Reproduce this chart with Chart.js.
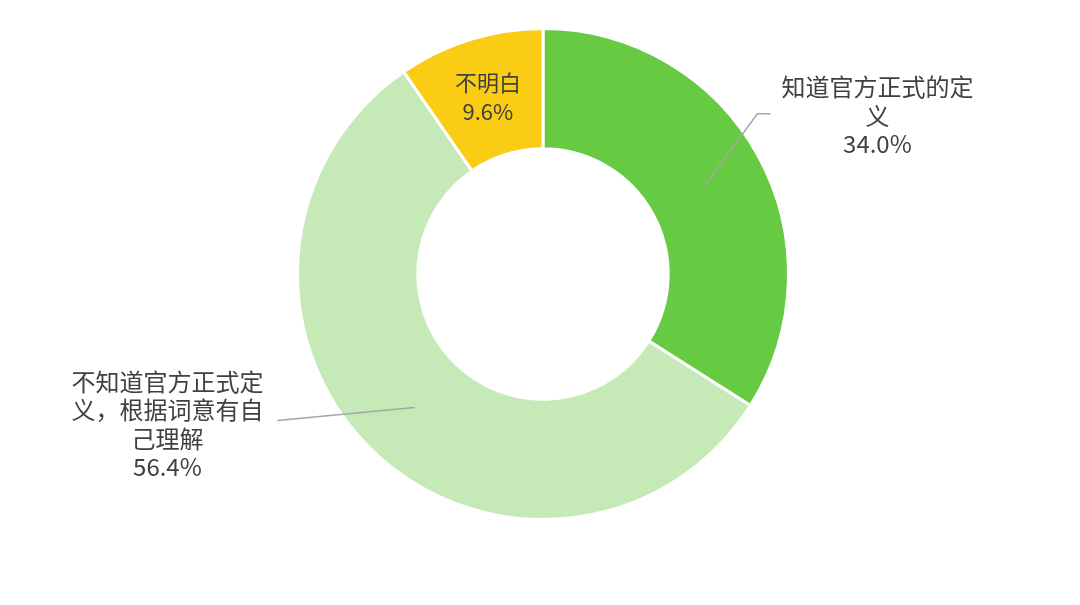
<!DOCTYPE html>
<html>
<head>
<meta charset="utf-8">
<script src="https://cdn.jsdelivr.net/npm/chart.js@4/dist/chart.umd.min.js"></script>
<style>
  html, body { margin: 0; padding: 0; background: #fff; }
  #wrap { width: 1080px; height: 605px; }
</style>
</head>
<body>
<div id="wrap"><canvas id="c" width="1080" height="605"></canvas></div>
<script>
// data
const labels = ['知道官方正式的定义', '不知道官方正式定义，根据词意有自己理解', '不明白'];
const shares = [34.0, 56.4, 9.6];
const colors = ['#66CA43', '#C5EAB8', '#FACC14'];

// how each label is broken into lines
const labelLines = [
  ['知道官方正式的定', '义'],
  ['不知道官方正式定', '义，根据词意有自', '己理解'],
  ['不明白']
];

// label placement relative to the slice anchor (mid angle, mid radius)
const labelLayout = [
  { inside: false, bend: [52, -71], end: [65, -71], text: [172, -69] },
  { inside: false, bend: [-137, 13], end: [-137, 13], text: [-247, 17] },
  { inside: true }
];

const lineH = 28.5;

const labelPlugin = {
  id: 'sliceLabels',
  afterDatasetsDraw(chart) {
    const ctx = chart.ctx;
    const meta = chart.getDatasetMeta(0);
    ctx.save();
    ctx.fillStyle = '#404040';
    ctx.textBaseline = 'middle';
    meta.data.forEach((arc, i) => {
      const p = arc.getProps(['x', 'y', 'startAngle', 'endAngle', 'innerRadius', 'outerRadius'], true);
      const mid = (p.startAngle + p.endAngle) / 2;
      const r = (p.innerRadius + p.outerRadius) / 2;
      const ax = p.x + Math.cos(mid) * r;
      const ay = p.y + Math.sin(mid) * r;
      const lay = labelLayout[i];
      const lines = labelLines[i].concat([shares[i].toFixed(1) + '%']);
      let tx = ax, ty = ay;
      if (!lay.inside) {
        ctx.strokeStyle = '#A6A6A6';
        ctx.lineWidth = 1.5;
        ctx.beginPath();
        ctx.moveTo(ax, ay);
        ctx.lineTo(ax + lay.bend[0], ay + lay.bend[1]);
        ctx.lineTo(ax + lay.end[0], ay + lay.end[1]);
        ctx.stroke();
        tx = ax + lay.text[0];
        ty = ay + lay.text[1];
      }
      ctx.font = (lay.inside ? '22px' : '24px') + ' "Noto Sans CJK SC", "Noto Sans", sans-serif';
      ctx.textAlign = 'center';
      const top = ty - (lines.length - 1) * lineH / 2;
      lines.forEach((s, k) => ctx.fillText(s, tx, top + k * lineH));
    });
    ctx.restore();
  }
};

new Chart(document.getElementById('c'), {
  type: 'doughnut',
  data: {
    labels: labels,
    datasets: [{
      data: shares,
      backgroundColor: colors,
      borderColor: '#ffffff',
      borderWidth: 3
    }]
  },
  options: {
    responsive: false,
    animation: false,
    cutout: '51%',
    layout: { padding: { top: 27, bottom: 84, left: 100, right: 94 } },
    plugins: {
      legend: { display: false },
      tooltip: { enabled: false }
    }
  },
  plugins: [labelPlugin]
});
</script>
</body>
</html>
